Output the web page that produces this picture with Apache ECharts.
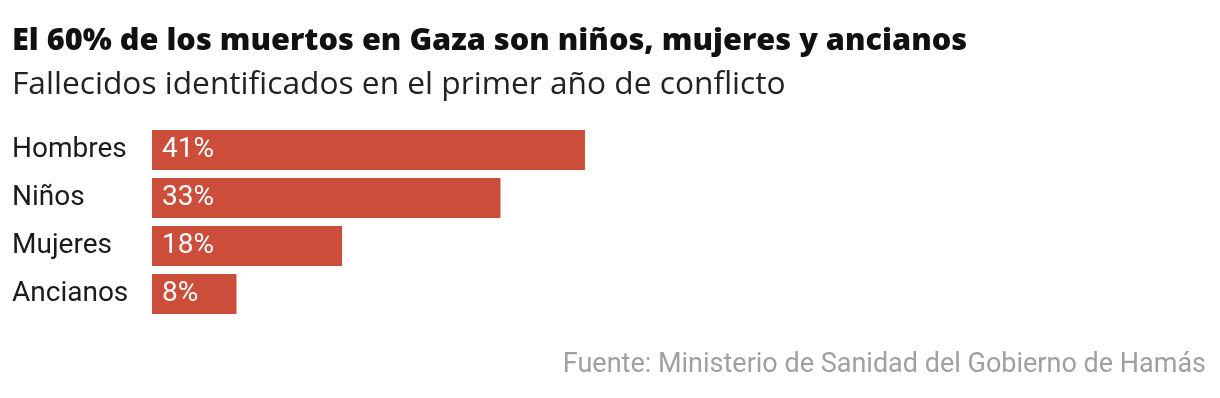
<!DOCTYPE html>
<html>
<head>
<meta charset="utf-8">
<script src="https://cdn.jsdelivr.net/npm/echarts@6/dist/echarts.min.js"></script>
<style>html,body{margin:0;padding:0;background:#fff}#c{width:1220px;height:398px}</style>
</head>
<body>
<div id="c"></div>
<script>
const categories = ['Hombres', 'Niños', 'Mujeres', 'Ancianos'];
const values = [41, 33, 18, 8];
const titleText = 'El 60% de los muertos en Gaza son niños, mujeres y ancianos';
const subtitleText = 'Fallecidos identificados en el primer año de conflicto';
const sourceText = 'Fuente: Ministerio de Sanidad del Gobierno de Hamás';

const chart = echarts.init(document.getElementById('c'));
chart.setOption({
  animation: false,
  backgroundColor: '#fff',
  title: [
    { text: titleText, left: 7, top: 21, textStyle: { fontFamily: 'Open Sans', fontWeight: 800, fontSize: 30.7, color: '#111' } },
    { text: subtitleText, left: 7, top: 64, textStyle: { fontFamily: 'Open Sans', fontWeight: 'normal', fontSize: 31.7, color: '#222' } },
    { text: sourceText, right: 9, top: 347, textStyle: { fontFamily: 'Roboto', fontWeight: 'normal', fontSize: 27, color: '#a0a0a0' } }
  ],
  grid: { left: 152, right: 12, top: 126, bottom: 80 },
  xAxis: { type: 'value', min: 0, max: 100, show: false },
  yAxis: {
    type: 'category', data: categories, inverse: true,
    axisLine: { show: false }, axisTick: { show: false },
    axisLabel: { align: 'left', margin: 140, fontFamily: 'Roboto', fontSize: 28, color: '#1a1a1a' }
  },
  series: [{
    type: 'bar', data: values, barCategoryGap: '16.67%',
    itemStyle: { color: '#cb4d3a' },
    label: { show: true, position: 'insideLeft', distance: 10, formatter: '{c}%', fontFamily: 'Roboto', fontSize: 28, color: '#fff' }
  }]
});
</script>
</body>
</html>
